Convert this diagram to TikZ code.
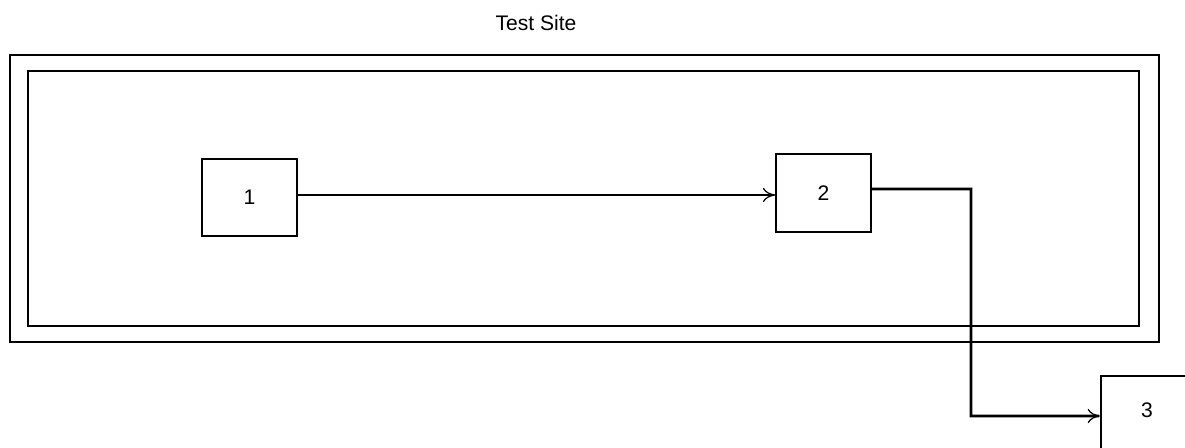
\documentclass[tikz,border=0pt]{standalone}
\usepackage{fontspec}
\setmainfont{Liberation Sans}
\usepackage{tikz}
\usetikzlibrary{arrows.meta}

\begin{document}
\begin{tikzpicture}[x=0.02cm, y=-0.02cm, font=\fontsize{12}{14}\selectfont,
box/.style={draw, line width=0.9pt, minimum width=1.9cm, minimum height=1.55cm, inner sep=0pt},
frame/.style={draw, line width=1pt},
link/.style={line width=1.6pt, -{To[length=7pt, width=8pt, line width=0.7pt]}}]

\useasboundingbox (0,0) rectangle (1185,448);
\clip (0,0) rectangle (1185,448);

% Site boundary
\node (title) at (536,23) {Test Site};
\draw[frame] (10,55) rectangle (1159,342);
\draw[frame] (28,71) rectangle (1139,326);

% Boxes
\node[box] (b1) at (249.5,197.5) {\raisebox{-0.1em}{1}\hspace{0.4em}};
\node[box] (b2) at (823.5,193) {\raisebox{-0.1em}{2}\hspace{0.4em}};
\node[draw, line width=0.9pt, anchor=north west, minimum width=2cm, minimum height=2cm] (b3) at (1100,375) {};
\node (n3) at (1147,410) {3};

% Connections
\coordinate (turn) at (971,416);
\draw[link] (b1.east |- 0,195) -- (b2.west |- 0,195);
\draw[link] ([yshift=0.08cm]b2.east) -- (turn |- 0,189) -- (turn) -- (turn -| b3.west);
\end{tikzpicture}
\end{document}
